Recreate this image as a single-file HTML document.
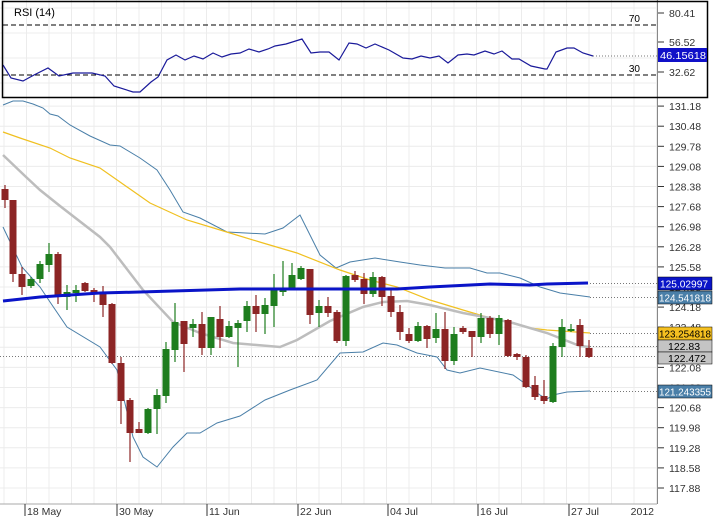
<!DOCTYPE html>
<html><head><meta charset="utf-8"><style>
html,body{margin:0;padding:0;background:#fff;}
svg{display:block;font-family:"Liberation Sans",Arial,sans-serif;}
</style></head><body>
<svg id="s" width="714" height="519" viewBox="0 0 714 519" xmlns="http://www.w3.org/2000/svg">
<rect x="0" y="0" width="714" height="519" fill="#fff"/>
<g id="grid"></g>
<!-- RSI panel -->
<text x="14" y="16" font-size="11" fill="#000">RSI (14)</text>
<line x1="3" y1="25" x2="657" y2="25" stroke="#000" stroke-dasharray="5,3"/>
<line x1="3" y1="75" x2="657" y2="75" stroke="#000" stroke-dasharray="5,3"/>
<text x="640" y="22" font-size="10" text-anchor="end">70</text>
<text x="640" y="72" font-size="10" text-anchor="end">30</text>
<polyline fill="none" stroke="#1a1a9a" stroke-width="1.2" points="3,65 11,78 23,81 34,75 48,68 59,76 73,73 92,73 105,76 114,86 133,92 140,92 151,82 158,77 167,60 176,55 185,60 194,56 203,59 213,53 222,57 231,54 240,53 249,49 259,52 268,49 275,46 286,44 302,39 311,53 320,52 329,52 339,60 349,43 357,44 366,48 375,44 389,50 403,58 412,59 421,56 430,58 439,56 448,63 458,55 467,54 474,55 485,51 494,54 502,51 512,59 519,59 531,66 545,69 547,69 556,52 567,48 574,48 583,53 593,56"/>
<line x1="593" y1="56" x2="657" y2="56" stroke="#777" stroke-dasharray="1,2"/>
<line x1="657.5" y1="0" x2="657.5" y2="504" stroke="#888"/>
<rect x="2.5" y="1.5" width="705" height="96" fill="none" stroke="#000" stroke-width="1.5"/>
<line x1="0" y1="504" x2="657" y2="504" stroke="#aaa"/>
<g font-size="10.5" fill="#333">
<line x1="658" y1="13" x2="664" y2="13" stroke="#333"/><text x="669" y="17">80.41</text>
<line x1="658" y1="42" x2="664" y2="42" stroke="#333"/><text x="669" y="46">56.52</text>
<line x1="658" y1="72" x2="664" y2="72" stroke="#333"/><text x="669" y="76">32.62</text>
</g>
<rect x="658" y="48" width="49" height="14" fill="#1010c8"/>
<text x="660" y="59" font-size="10.5" fill="#fff" textLength="46" lengthAdjust="spacingAndGlyphs">46.15618</text>
<g id="yax" font-size="10.5" fill="#333"></g>
<!-- lines -->
<line x1="0" y1="356.5" x2="657" y2="356.5" stroke="#777" stroke-dasharray="1,2"/>
<polyline fill="none" stroke="#4a7fa8" stroke-width="1" points="3,105 13,101 23,101 33,104 43,108 50,114 58,116 70,125 90,136 110,145 120,146 140,158 157,170 170,190 183,212 200,218 227,232 265,234 283,228 300,215 310,235 320,255 336,268 350,262 375,258 400,262 420,265 445,268 470,268 487,273 500,273 520,278 540,287 560,293 590,297"/>
<polyline fill="none" stroke="#4a7fa8" stroke-width="1" points="3,227 22,267 40,287 50,302 67,327 100,347 117,370 133,437 143,457 157,467 173,447 187,433 200,433 217,423 240,416 265,400 290,390 317,380 340,353 363,352 383,343 397,345 417,353 437,357 447,370 460,373 480,368 513,375 530,387 540,395 547,399 553,395 567,392 590,391"/>
<polyline fill="none" stroke="#f0c020" stroke-width="1.2" points="3,132 20,138 50,148 70,158 100,168 120,182 150,203 187,220 230,233 263,243 297,253 340,270 370,280 397,287 430,300 463,310 490,318 507,322 530,328 547,330 590,333"/>
<polyline fill="none" stroke="#bdbdbd" stroke-width="2.5" points="3,155 25,176 40,190 60,206 100,237 110,247 143,290 173,322 200,333 233,343 280,347 297,340 330,321 363,307 383,302 407,301 430,305 463,313 490,318 513,323 547,333 580,346 590,347"/>
<g id="candles"></g>
<polyline fill="none" stroke="#0a14c8" stroke-width="3" points="3,301 40,297 100,293 140,292 240,289 330,289 397,289 430,287 470,285 490,284 530,285 547,284 588,283"/>
<g stroke="#777" stroke-dasharray="1,2">
<line x1="590" y1="283.5" x2="657" y2="283.5"/>
<line x1="590" y1="297.5" x2="657" y2="297.5"/>
<line x1="590" y1="333.5" x2="657" y2="333.5"/>
<line x1="590" y1="346.5" x2="657" y2="346.5"/>
<line x1="590" y1="391.5" x2="657" y2="391.5"/>
</g>
<g font-size="10.5">
<rect x="658" y="277" width="54" height="13" fill="#0a14c8" stroke="#000" stroke-width="0.5"/><text x="660" y="287.5" fill="#fff" textLength="48" lengthAdjust="spacingAndGlyphs">125.02997</text>
<rect x="658" y="291" width="54" height="13" fill="#4a7fa8" stroke="#000" stroke-width="0.5"/><text x="659" y="301.5" fill="#fff" textLength="52" lengthAdjust="spacingAndGlyphs">124.541818</text>
<rect x="658" y="327" width="54" height="13" fill="#f5c020" stroke="#000" stroke-width="0.5"/><text x="659" y="337.5" fill="#000" textLength="52" lengthAdjust="spacingAndGlyphs">123.254818</text>
<rect x="658" y="340" width="54" height="12" fill="#c4c4c4" stroke="#000" stroke-width="0.5"/><text x="668" y="350" fill="#000">122.83</text>
<rect x="658" y="352" width="54" height="12" fill="#c4c4c4" stroke="#000" stroke-width="0.5"/><text x="668" y="362" fill="#000">122.472</text>
<rect x="658" y="385" width="54" height="13" fill="#4a7fa8" stroke="#000" stroke-width="0.5"/><text x="659" y="395.5" fill="#fff" textLength="52" lengthAdjust="spacingAndGlyphs">121.243355</text>
</g>
<g id="xax" font-size="10.5" fill="#333"></g>
</svg>
<script>
var NS="http://www.w3.org/2000/svg";
function el(p,t,a,txt){var e=document.createElementNS(NS,t);for(var k in a)e.setAttribute(k,a[k]);if(txt)e.textContent=txt;document.getElementById(p).appendChild(e);return e;}
for(var x=4;x<657;x+=22.5){el("grid","line",{x1:x,y1:0,x2:x,y2:504,stroke:"#ececec"});}
for(var i=0;i<=19;i++){var y=488-i*20.1;el("grid","line",{x1:0,y1:y,x2:657,y2:y,stroke:"#ececec"});
 var v=(117.88+i*0.7).toFixed(2);el("yax","line",{x1:658,y1:y,x2:664,y2:y,stroke:"#333"});el("yax","text",{x:669,y:y+4},v);}
[8,33,58,83].forEach(function(y){el("grid","line",{x1:0,y1:y,x2:657,y2:y,stroke:"#ececec"});});
[[25,"18 May"],[117,"30 May"],[207,"11 Jun"],[298,"22 Jun"],[388,"04 Jul"],[478,"16 Jul"],[569,"27 Jul"]].forEach(function(d){
 el("xax","line",{x1:d[0],y1:504,x2:d[0],y2:516,stroke:"#333"});el("xax","text",{x:d[0]+2,y:515},d[1]);});
el("xax","text",{x:654,y:515,"text-anchor":"end"},"2012");
var C=[[5,189,200,185,208,"r"],[13,200,274,200,282,"r"],[22,274,287,267,295,"r"],[31,279,286,277,288,"g"],[40,264,279,261,283,"g"],[49,254,265,243,272,"g"],[58,254,296,252,304,"r"],[67,292,297,285,310,"g"],[76,290,293,285,302,"g"],[85,283,291,282,292,"r"],[94,290,293,288,302,"r"],[103,294,305,286,317,"r"],[112,304,363,303,364,"r"],[121,363,401,357,424,"r"],[130,400,433,398,462,"r"],[139,429,433,422,433,"r"],[148,409,433,408,434,"g"],[157,395,409,389,434,"g"],[166,349,396,342,403,"g"],[175,322,350,303,362,"g"],[184,321,344,321,372,"r"],[193,324,328,319,337,"g"],[202,324,348,312,355,"r"],[211,317,348,317,355,"g"],[220,319,337,306,348,"r"],[229,326,337,321,338,"g"],[238,323,328,320,367,"g"],[247,306,321,301,332,"g"],[256,306,314,295,332,"r"],[265,305,314,298,334,"g"],[274,290,306,274,327,"g"],[283,288,292,261,296,"g"],[292,275,288,263,290,"g"],[301,268,279,266,280,"g"],[310,269,315,269,324,"r"],[319,306,313,300,327,"g"],[328,306,313,297,317,"r"],[337,312,341,310,343,"r"],[346,276,341,275,346,"g"],[355,275,280,271,282,"r"],[364,279,294,273,304,"r"],[373,277,294,272,297,"g"],[382,277,297,276,306,"r"],[391,296,312,289,317,"r"],[400,312,332,305,340,"r"],[409,334,341,328,343,"r"],[418,326,341,322,342,"g"],[427,326,339,325,348,"r"],[436,329,338,313,343,"g"],[445,329,361,312,369,"r"],[454,334,361,327,365,"g"],[463,328,332,326,334,"r"],[472,331,337,331,357,"r"],[481,318,337,313,343,"g"],[490,318,334,316,338,"r"],[499,318,334,315,345,"g"],[508,320,356,319,357,"r"],[517,354,357,353,360,"r"],[526,357,387,355,388,"r"],[535,385,397,376,400,"r"],[544,396,401,380,404,"r"],[553,346,402,343,403,"g"],[562,327,347,319,357,"g"],[571,329,331,324,332,"g"],[580,325,346,319,357,"r"],[589,348,357,340,358,"r"]];
C.forEach(function(c){var col=c[5]=="g"?"#1e7d1e":"#8c2525";
 el("candles","line",{x1:c[0],y1:c[3],x2:c[0],y2:c[4],stroke:col,"stroke-width":1.2});
 el("candles","rect",{x:c[0]-3.5,y:c[1],width:7,height:Math.max(1.5,c[2]-c[1]),fill:col});});
</script>
</body></html>
